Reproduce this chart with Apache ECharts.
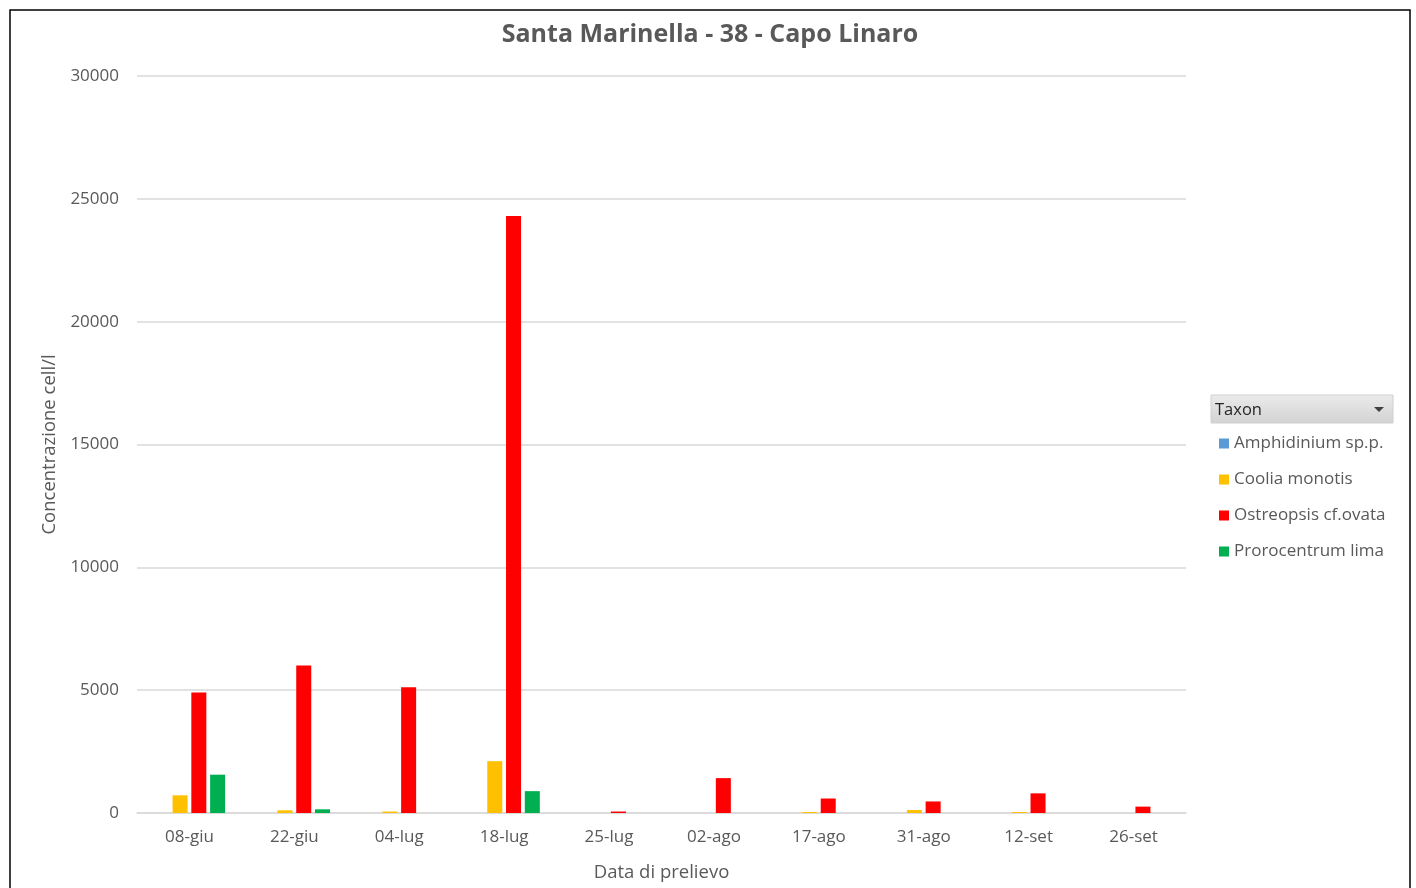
<!DOCTYPE html>
<html>
<head>
<meta charset="utf-8">
<script src="https://cdn.jsdelivr.net/npm/echarts@6/dist/echarts.min.js"></script>
<style>
html,body{margin:0;padding:0;background:#fff;}
#c{width:1416px;height:888px;}
</style>
</head>
<body>
<div id="c"></div>
<script>
const categories = ['08-giu','22-giu','04-lug','18-lug','25-lug','02-ago','17-ago','31-ago','12-set','26-set'];
const amphidinium = [null,null,null,null,null,null,null,null,null,null];
const coolia = [720,110,60,2110,null,null,40,120,40,null];
const ostreopsis = [4900,6000,5120,24300,60,1420,590,470,800,260];
const prorocentrum = [1560,150,null,890,null,null,null,null,null,null];
const yTicks = [0,5000,10000,15000,20000,25000,30000];

const font = '"Open Sans", "Noto Sans", sans-serif';
const chart = echarts.init(document.getElementById('c'));
function s(name, data, color){
  return {name, type:'bar', data, barGap:'25%', barCategoryGap:'32%',
    itemStyle:{color}, emphasis:{disabled:true}};
}
chart.setOption({
  animation:false,
  title:{text:'Santa Marinella - 38 - Capo Linaro', left:705, top:17, textAlign:'center',
    textStyle:{fontFamily:font, fontSize:25, fontWeight:'bold', color:'#595959'}},
  grid:{left:137, right:230, top:76, bottom:75},
  legend:{orient:'vertical', left:1219, top:435, padding:0, itemWidth:10, itemHeight:10, itemGap:19,
    icon:'rect', textStyle:{fontFamily:font, fontSize:17, color:'#595959'},
    data:['Amphidinium sp.p.','Coolia monotis','Ostreopsis cf.ovata','Prorocentrum lima']},
  xAxis:{type:'category', data:categories, name:'Data di prelievo', nameLocation:'middle', nameGap:50,
    nameTextStyle:{fontFamily:font, fontSize:18.5, color:'#595959'},
    axisLine:{lineStyle:{color:'#D9D9D9', width:1.5}}, axisTick:{show:false},
    axisLabel:{fontFamily:font, fontSize:17, color:'#595959', margin:16}},
  yAxis:{type:'value', min:0, max:30000, interval:5000, name:'Concentrazione cell/l',
    nameLocation:'middle', nameGap:76, nameRotate:90,
    nameTextStyle:{fontFamily:font, fontSize:18.5, color:'#595959'},
    axisLine:{show:false}, axisTick:{show:false},
    splitLine:{lineStyle:{color:'#D9D9D9', width:1.5}},
    axisLabel:{fontFamily:font, fontSize:17, color:'#595959', margin:18,
      formatter:v=>yTicks.includes(v)?String(v):''}},
  graphic:[
    {type:'rect', shape:{x:10, y:10, width:1400, height:900}, style:{fill:'none', stroke:'#000', lineWidth:1.5}, silent:true},
    {type:'rect', shape:{x:1211, y:395, width:182, height:28},
      style:{fill:new echarts.graphic.LinearGradient(0,0,0,1,[{offset:0,color:'#EBEBEB'},{offset:1,color:'#D2D2D2'}]),
        stroke:'#D0D0D0', lineWidth:1}, silent:true},
    {type:'text', left:1215, top:402, style:{text:'Taxon', fontFamily:font, fontSize:16.5, fill:'#262626'}},
    {type:'polygon', shape:{points:[[1374,407],[1384,407],[1379,412]]}, style:{fill:'#404040'}}
  ],
  series:[
    s('Amphidinium sp.p.', amphidinium, '#5B9BD5'),
    s('Coolia monotis', coolia, '#FFC000'),
    s('Ostreopsis cf.ovata', ostreopsis, '#FF0000'),
    s('Prorocentrum lima', prorocentrum, '#00B050')
  ]
});
</script>
</body>
</html>
